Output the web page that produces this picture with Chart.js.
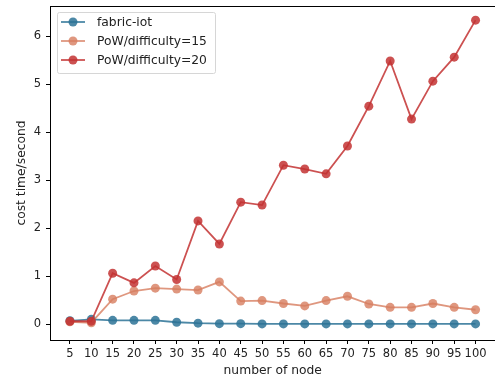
<!DOCTYPE html>
<html>
<head>
<meta charset="utf-8">
<script src="https://cdn.jsdelivr.net/npm/chart.js@4"></script>
<style>
  html, body { margin: 0; padding: 0; background: #fff; overflow: hidden; }
  #wrap { width: 495px; height: 381px; overflow: hidden; }
</style>
</head>
<body>
<div id="wrap"><canvas id="chart" width="500" height="381"></canvas></div>
<script>
// data
const nodes = [5, 10, 15, 20, 25, 30, 35, 40, 45, 50, 55, 60, 65, 70, 75, 80, 85, 90, 95, 100];
const fabricIot = [0.07, 0.10, 0.08, 0.08, 0.08, 0.04, 0.02, 0.01, 0.01, 0.005, 0.005, 0.005, 0.005, 0.005, 0.005, 0.005, 0.005, 0.005, 0.005, 0.005];
const pow15 = [0.05, 0.03, 0.52, 0.69, 0.75, 0.73, 0.71, 0.88, 0.48, 0.49, 0.43, 0.38, 0.49, 0.58, 0.42, 0.35, 0.35, 0.43, 0.35, 0.30];
const pow20 = [0.06, 0.06, 1.06, 0.86, 1.21, 0.93, 2.15, 1.67, 2.54, 2.48, 3.31, 3.23, 3.13, 3.71, 4.54, 5.48, 4.27, 5.06, 5.56, 6.33];
const yTicks = [0, 1, 2, 3, 4, 5, 6];

const seriesNames = ['fabric-iot', 'PoW/difficulty=15', 'PoW/difficulty=20'];
const seriesColors = ['rgba(45, 115, 150, 0.85)', 'rgba(215, 125, 95, 0.8)', 'rgba(195, 50, 50, 0.85)'];
const textColor = '#222';

function toPoints(values) {
    return values.map((v, i) => ({ x: nodes[i], y: v }));
}

// full box around the plot area, like matplotlib (right side falls off the page)
const frame = {
    id: 'frame',
    afterDraw(chart) {
        const { ctx, chartArea: a } = chart;
        ctx.save();
        ctx.strokeStyle = '#000';
        ctx.lineWidth = 1;
        ctx.strokeRect(Math.round(a.left) + 0.5, Math.round(a.top) + 0.5,
            Math.round(a.right - a.left) - 1, Math.round(a.bottom - a.top));
        ctx.restore();
    }
};

// legend in the upper left corner inside the axes
const insideLegend = {
    id: 'insideLegend',
    afterDraw(chart) {
        const { ctx, chartArea: a } = chart;
        const x0 = a.left + 7, y0 = a.top + 6, w = 158, h = 61;
        ctx.save();
        ctx.fillStyle = 'rgba(255,255,255,0.8)';
        ctx.strokeStyle = '#d6d6d6';
        ctx.lineWidth = 1;
        ctx.beginPath();
        ctx.roundRect(x0 + 0.5, y0 + 0.5, w, h, 2);
        ctx.fill();
        ctx.stroke();
        ctx.font = '12.3px "DejaVu Sans"';
        ctx.textBaseline = 'middle';
        chart.data.datasets.forEach((ds, i) => {
            const y = y0 + 10 + i * 19;
            ctx.strokeStyle = ds.borderColor;
            ctx.lineWidth = 1.8;
            ctx.beginPath();
            ctx.moveTo(x0 + 4, y);
            ctx.lineTo(x0 + 28, y);
            ctx.stroke();
            ctx.fillStyle = ds.pointBackgroundColor;
            ctx.beginPath();
            ctx.arc(x0 + 16, y, 4.5, 0, Math.PI * 2);
            ctx.fill();
            ctx.fillStyle = textColor;
            ctx.fillText(ds.label, x0 + 40, y + 1);
        });
        ctx.restore();
    }
};

const datasets = [fabricIot, pow15, pow20].map((values, i) => ({
    label: seriesNames[i],
    data: toPoints(values),
    borderColor: seriesColors[i],
    backgroundColor: seriesColors[i],
    pointBackgroundColor: seriesColors[i],
    pointBorderWidth: 0,
    pointRadius: 4.5,
    borderWidth: 1.8,
    order: 2 - i
}));

new Chart(document.getElementById('chart'), {
    type: 'line',
    data: { datasets },
    plugins: [frame, insideLegend],
    options: {
        responsive: false,
        animation: false,
        layout: { padding: { top: 6, right: 3, left: 0, bottom: 0 } },
        plugins: {
            legend: { display: false },
            tooltip: { enabled: false }
        },
        scales: {
            x: {
                type: 'linear',
                min: 0.33,
                max: 104.67,
                afterBuildTicks: scale => { scale.ticks = nodes.map(v => ({ value: v })); },
                afterFit: scale => {
                    scale.height = 41;
                    scale.paddingLeft = 0;
                    scale.paddingRight = 0;
                },
                grid: { drawOnChartArea: false, tickLength: 4, color: '#000' },
                border: { display: true, color: '#000' },
                ticks: {
                    autoSkip: false,
                    maxRotation: 0,
                    padding: 3,
                    color: textColor,
                    font: { family: 'DejaVu Sans', size: 11.5 }
                },
                title: {
                    display: true,
                    text: 'number of node',
                    color: textColor,
                    padding: { top: 0, bottom: 3 },
                    font: { family: 'DejaVu Sans', size: 12.3 }
                }
            },
            y: {
                min: -0.33,
                max: 6.625,
                afterBuildTicks: scale => { scale.ticks = yTicks.map(v => ({ value: v })); },
                afterFit: scale => {
                    scale.width = 50;
                    scale.paddingTop = 0;
                    scale.paddingBottom = 0;
                },
                grid: { drawOnChartArea: false, tickLength: 4, color: '#000' },
                border: { display: true, color: '#000' },
                ticks: {
                    padding: 5,
                    color: textColor,
                    font: { family: 'DejaVu Sans', size: 11.5 }
                },
                title: {
                    display: true,
                    text: 'cost time/second',
                    color: textColor,
                    padding: { top: 14, bottom: 0 },
                    font: { family: 'DejaVu Sans', size: 12.3 }
                }
            }
        }
    }
});
</script>
</body>
</html>
